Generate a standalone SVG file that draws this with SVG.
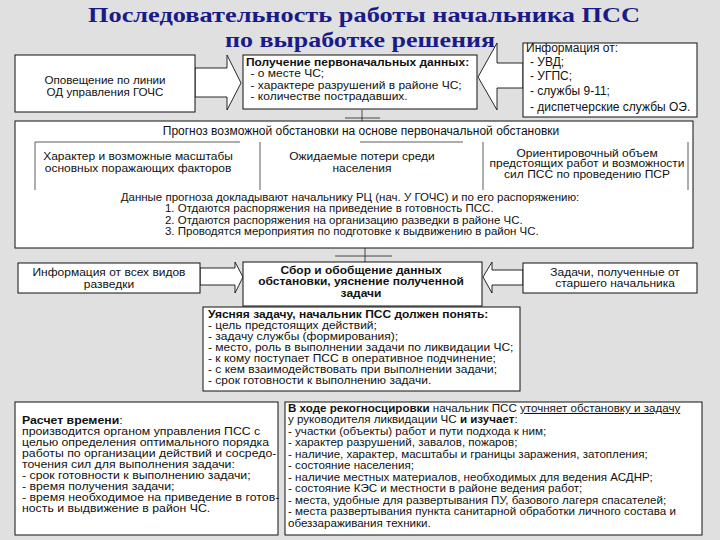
<svg xmlns="http://www.w3.org/2000/svg" width="720" height="540" viewBox="0 0 720 540">
<style>
.bg{fill:#e0e0e0}
.box{fill:#fff;stroke:#111;stroke-width:1}
.arr{fill:#fff;stroke:#111;stroke-width:0.9;stroke-linejoin:miter}
.sub{fill:none;stroke:#333;stroke-width:0.8}
.tick{fill:none;stroke:#222;stroke-width:0.8}
text{font-family:"Liberation Sans",Arial,sans-serif;font-size:12px;fill:#111}
.d{font-size:10.5px}
.c{text-anchor:middle}
.b{font-weight:bold}
.u{text-decoration:underline}
.title{font-family:"Liberation Serif","Times New Roman",serif;font-size:22px;font-weight:bold;fill:#1a1a88;text-anchor:middle}
</style>
<rect class="bg" x="0" y="0" width="720" height="540"/>
<g id="title">
<text class="title" x="364" y="22" textLength="552" lengthAdjust="spacingAndGlyphs">Последовательность работы начальника ПСС</text>
<text class="title" x="360" y="46.5" textLength="270" lengthAdjust="spacingAndGlyphs">по выработке решения</text>
</g>
<g id="connectors">
<polygon class="arr" points="195,68 227,68 227,55 241,83 227,110 227,97 195,97"/>
<polygon class="arr" points="523,63 497,63 497,43 478,77 497,110 497,88 523,88"/>
<polygon class="arr" points="200,268 235,268 235,262 243,277 235,293 235,285 200,285"/>
<polygon class="arr" points="523,270 492,270 492,262 483,277 492,293 492,285 523,285"/>
<path class="tick" d="M362,110 V121 M345,118 H380"/>
<path class="tick" d="M365,248 V262 M335,256 H392"/>
</g>
<g id="n1">
<rect class="box" x="15" y="55" width="180" height="57"/>
<text class="c" x="105" y="84" style="font-size:11.6px">Оповещение по линии</text>
<text class="c" x="105" y="96" style="font-size:11.6px">ОД управления ГОЧС</text>
</g>
<g id="n2">
<rect class="box" x="243" y="55" width="234" height="54"/>
<g transform="matrix(1.143,0,0,1,-35.2,0)">
<text x="246" y="66" class="d b">Получение первоначальных данных:</text>
<text x="250" y="77.5" class="d">- о месте ЧС;</text>
<text x="250" y="89" class="d">- характере разрушений в районе ЧС;</text>
<text x="250" y="100.5" class="d">- количестве пострадавших.</text>
</g>
</g>
<g id="n3">
<rect class="box" x="523" y="43" width="174" height="74"/>
<text x="526" y="52">Информация от:</text>
<text x="530" y="66">- УВД;</text>
<text x="530" y="80">- УГПС;</text>
<text x="530" y="95">- службы 9-11;</text>
<text x="530" y="111">- диспетчерские службы ОЭ.</text>
</g>
<g id="n4">
<rect class="box" x="15" y="121" width="678" height="127"/>
<text class="c" x="361" y="135">Прогноз возможной обстановки на основе первоначальной обстановки</text>
<path class="sub" d="M35,190 V142 H240"/>
<path class="sub" d="M260,190 V142 M360,142 H463"/>
<path class="sub" d="M483,190 V142 M688,142 V190"/>
<g transform="matrix(1.143,0,0,1,-19.7,0)">
<text class="c d" x="138" y="160">Характер и возможные масштабы</text>
<text class="c d" x="138" y="172">основных поражающих факторов</text>
</g>
<g transform="matrix(1.143,0,0,1,-51.8,0)">
<text class="c d" x="362" y="160">Ожидаемые потери среди</text>
<text class="c d" x="362" y="172">населения</text>
</g>
<g transform="matrix(1.143,0,0,1,-83.9,0)">
<text class="c d" x="587" y="157">Ориентировочный объем</text>
<text class="c d" x="587" y="167.5">предстоящих работ и возможности</text>
<text class="c d" x="587" y="178">сил ПСС по проведению ПСР</text>
</g>
<g transform="matrix(1.095,0,0,1,-33.25,0)">
<text class="c d" x="350" y="201">Данные прогноза докладывают начальнику РЦ (нач. У ГОЧС) и по его распоряжению:</text>
</g>
<g transform="matrix(1.095,0,0,1,-15.7,0)">
<text class="d" x="165" y="212.5">1. Отдаются распоряжения на приведение в готовность ПСС.</text>
<text class="d" x="165" y="224">2. Отдаются распоряжения на организацию разведки в районе ЧС.</text>
<text class="d" x="165" y="235.5">3. Проводятся мероприятия по подготовке к выдвижению в район ЧС.</text>
</g>
</g>
<g id="n5">
<rect class="box" x="18" y="263" width="182" height="30"/>
<g transform="matrix(1.143,0,0,1,-15.6,0)">
<text class="c d" x="109" y="276.5">Информация от всех видов</text>
<text class="c d" x="109" y="288">разведки</text>
</g>
</g>
<g id="n6">
<rect class="box" x="243" y="262" width="239" height="44"/>
<g transform="matrix(1.143,0,0,1,-51.6,0)">
<text class="c d b" x="361" y="274">Сбор и обобщение данных</text>
<text class="c d b" x="361" y="285.5">обстановки, уяснение полученной</text>
<text class="c d b" x="361" y="297">задачи</text>
</g>
</g>
<g id="n7">
<rect class="box" x="523" y="263" width="174" height="30"/>
<g transform="matrix(1.143,0,0,1,-87.9,0)">
<text class="c d" x="615" y="276">Задачи, полученные от</text>
<text class="c d" x="615" y="287.5">старшего начальника</text>
</g>
</g>
<g id="n8">
<rect class="box" x="203" y="307" width="317" height="84"/>
<g transform="matrix(1.143,0,0,1,-29.7,0)">
<text x="208" y="318.5" class="d b">Уясняя задачу, начальник ПСС должен понять:</text>
<text x="208" y="329.5" class="d">- цель предстоящих действий;</text>
<text x="208" y="340.5" class="d">- задачу службы (формирования);</text>
<text x="208" y="351.5" class="d">- место, роль в выполнении задачи по ликвидации ЧС;</text>
<text x="208" y="362.5" class="d">- к кому поступает ПСС в оперативное подчинение;</text>
<text x="208" y="373.5" class="d">- с кем взаимодействовать при выполнении задачи;</text>
<text x="208" y="384.5" class="d">- срок готовности к выполнению задачи.</text>
</g>
</g>
<g id="n9">
<rect class="box" x="15" y="402" width="263" height="133"/>
<g transform="matrix(1.171,0,0,1,-3.76,0)">
<text x="22" y="424" class="d"><tspan class="b">Расчет времени</tspan>:</text>
<text x="22" y="435" class="d">производится органом управления ПСС с</text>
<text x="22" y="446" class="d">целью определения оптимального порядка</text>
<text x="22" y="457" class="d">работы по организации действий и сосредо-</text>
<text x="22" y="468" class="d">точения сил для выполнения задачи:</text>
<text x="22" y="479" class="d">- срок готовности к выполнению задачи;</text>
<text x="22" y="490" class="d">- время получения задачи;</text>
<text x="22" y="501" class="d">- время необходимое на приведение в готов-</text>
<text x="22" y="512" class="d">ность и выдвижение в район ЧС.</text>
</g>
</g>
<g id="n10">
<rect class="box" x="285" y="402" width="417" height="133"/>
<g transform="matrix(1.105,0,0,1,-30.24,0)">
<text x="288" y="412" class="d"><tspan class="b">В ходе рекогносцировки</tspan> начальник ПСС <tspan class="u">уточняет обстановку и задачу</tspan></text>
<text x="288" y="423.5" class="d">у руководителя ликвидации ЧС <tspan class="b">и изучает</tspan>:</text>
<text x="288" y="435" class="d">- участки (объекты) работ и пути подхода к ним;</text>
<text x="288" y="446.5" class="d">- характер разрушений, завалов, пожаров;</text>
<text x="288" y="458" class="d">- наличие, характер, масштабы и границы заражения, затопления;</text>
<text x="288" y="469.5" class="d">- состояние населения;</text>
<text x="288" y="481" class="d">- наличие местных материалов, необходимых для ведения АСДНР;</text>
<text x="288" y="492.5" class="d">- состояние КЭС и местности в районе ведения работ;</text>
<text x="288" y="504" class="d">- места, удобные для развертывания ПУ, базового лагеря спасателей;</text>
<text x="288" y="515.5" class="d">- места развертывания пункта санитарной обработки личного состава и</text>
<text x="288" y="527" class="d">обеззараживания техники.</text>
</g>
</g>
</svg>
